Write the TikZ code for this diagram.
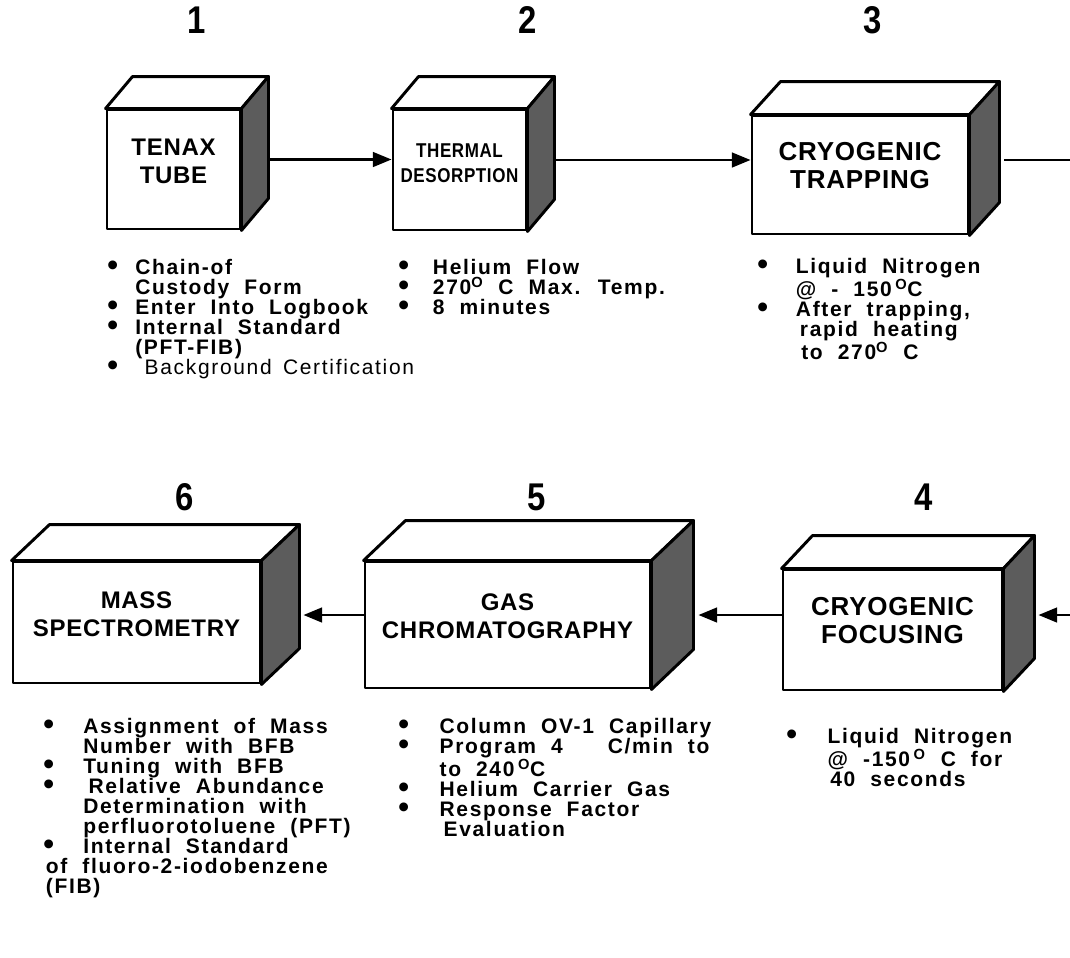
\documentclass[tikz,border=0pt]{standalone}
\usepackage{fontspec}
\setmainfont{Liberation Sans}
\newfontfamily\listfont[LetterSpace=8,WordSpace=2]{Liberation Sans Bold}
\newfontfamily\listlight[LetterSpace=8,WordSpace=1.5]{Liberation Sans}
\newfontfamily\boxfont[LetterSpace=3]{Liberation Sans Bold}
\newfontfamily\narrowfont[FakeStretch=0.85,LetterSpace=3]{Liberation Sans Bold}
\newfontfamily\numfont[FakeStretch=0.85]{Liberation Sans Bold}
\usetikzlibrary{arrows.meta, calc, fit}

\definecolor{sidegray}{gray}{0.36}

\newlength\bulwd
\newcommand\bul{\makebox[\bulwd][l]{\smash{\raisebox{-0.5pt}{\fontsize{23}{15}\selectfont\textbullet}}}}
\newcommand\ind{\hspace*{\bulwd}}
\newcommand\degO{\textsuperscript{O}}

% top and shaded side of a box, hung on its front face node
\newcommand\slab[3]{%
  \draw[edge, fill=white] (#1.north west) -- ($(#1.north west)+(#2,#3)$)
    -- ($(#1.north east)+(#2,#3)$) -- (#1.north east) -- cycle;
  \draw[edge, fill=sidegray] (#1.north east) -- ($(#1.north east)+(#2,#3)$)
    -- ($(#1.south east)+(#2,#3)$) -- (#1.south east) -- cycle;
}

\tikzset{
  edge/.style={line width=2.2pt, line join=round},
  face/.style={edge, draw, fill=white, inner sep=0pt, align=center,
    font=\boxfont\fontsize{18}{21}\selectfont},
  bigface/.style={face, font=\boxfont\fontsize{19.5}{21}\selectfont},
  flow/.style={line width=1.9pt, -{Triangle[length=14pt, width=11pt]}},
  plain/.style={line width=1.9pt},
  num/.style={font=\numfont\fontsize{29}{30}\selectfont},
  list/.style={anchor=north west, inner sep=0pt, align=left,
    font=\listfont\fontsize{15.75}{15}\selectfont,
    execute at begin node={\global\bulwd=#1\relax}},
}

\begin{document}
\begin{tikzpicture}[x=0.75pt, y=-0.75pt]
\useasboundingbox (0,0) rectangle (1070,957);

% --- upper row: 1 -> 2 -> 3 ---
\node[face, fit={(107,110) (240,229)}] (tenax) {TENAX\\TUBE};
\slab{tenax}{27}{-32}
\node[face, font=\narrowfont\fontsize{15}{19}\selectfont,
  fit={(393,110) (526,230)}] (desorb) {THERMAL\\DESORPTION};
\slab{desorb}{27}{-32}
\node[bigface, fit={(752,116) (968,234)}] (trap) {CRYOGENIC\\TRAPPING};
\slab{trap}{30}{-33}

\node[num] at (197,20) {1};
\node[num] at (528,20) {2};
\node[num] at (873,20) {3};

\coordinate (o1) at ($(tenax.east)+(27,-10)$);
\coordinate (o2) at ($(desorb.east)+(27,-10)$);
\coordinate (o3) at ($(trap.east)+(35,-15)$);
\coordinate (exit) at (1070,160);
\draw[flow] (o1) -- (o1 -| desorb.west);
\draw[flow] (o2) -- (o2 -| trap.west);
\draw[plain] (o3) -- (exit);

% --- lower row: 4 -> 5 -> 6 ---
\node[bigface, fit={(783,570) (1002,690)}] (focus) {CRYOGENIC\\FOCUSING};
\slab{focus}{31}{-33}
\node[face, fit={(365,562) (650,688)}] (gc) {GAS\\CHROMATOGRAPHY};
\slab{gc}{42}{-40}
\node[face, fit={(13,562) (260,683)}] (ms) {MASS\\SPECTROMETRY};
\slab{ms}{38}{-36}

\node[num] at (185,497) {6};
\node[num] at (537,497) {5};
\node[num] at (924,497) {4};

\coordinate (entry) at (1070,615);
\coordinate (o4) at ($(focus.east)+(35,-15)$);
\coordinate (o5) at ($(gc.east)+(47,-10)$);
\coordinate (o6) at ($(ms.east)+(42,-7.5)$);
\draw[flow] (entry) -- (entry -| o4);
\draw[flow] (o5 -| focus.west) -- (o5);
\draw[flow] (o6 -| gc.west) -- (o6);

% --- notes under each box ---
\node[list=21pt] (n1) at (107,259) {\bul Chain-of\\
  \ind Custody Form\\
  \bul Enter Into Logbook\\
  \bul Internal Standard\\
  \ind (PFT-FIB)\\
  \bul\hspace{7pt}{\listlight Background Certification}};
\node[list=26pt] (n2) at (398,259) {\bul Helium Flow\\
  \bul 270\degO\ C Max. Temp.\\
  \bul 8 minutes};
\node[list=29pt] (n3) at (757,258) {\bul Liquid Nitrogen\\
  \ind @ - 150\,\degO C\\
  \bul After trapping,\\
  \ind\hspace{3pt}rapid heating\\
  \ind\hspace{4pt}to 270\degO\ C};
\node[list=31pt] (n4) at (786,728) {\bul Liquid Nitrogen\\
  \ind @ -150\,\degO\ C for\\
  \ind\hspace{2pt}40 seconds};
\node[list=31pt] (n5) at (398,718) {\bul Column OV-1 Capillary\\
  \bul Program 4\ \ \ C/min to\\
  \ind to 240\,\degO C\\
  \bul Helium Carrier Gas\\
  \bul Response Factor\\
  \ind\hspace{3pt}Evaluation};
\node[list=30pt] (n6) at (43,718) {\bul Assignment of Mass\\
  \ind Number with BFB\\
  \bul Tuning with BFB\\
  \bul\hspace{4pt}Relative Abundance\\
  \ind Determination with\\
  \ind perfluorotoluene (PFT)\\
  \bul Internal Standard\\
  \hspace{2pt}of fluoro-2-iodobenzene\\
  \hspace{2pt}(FIB)};

\end{tikzpicture}
\end{document}
